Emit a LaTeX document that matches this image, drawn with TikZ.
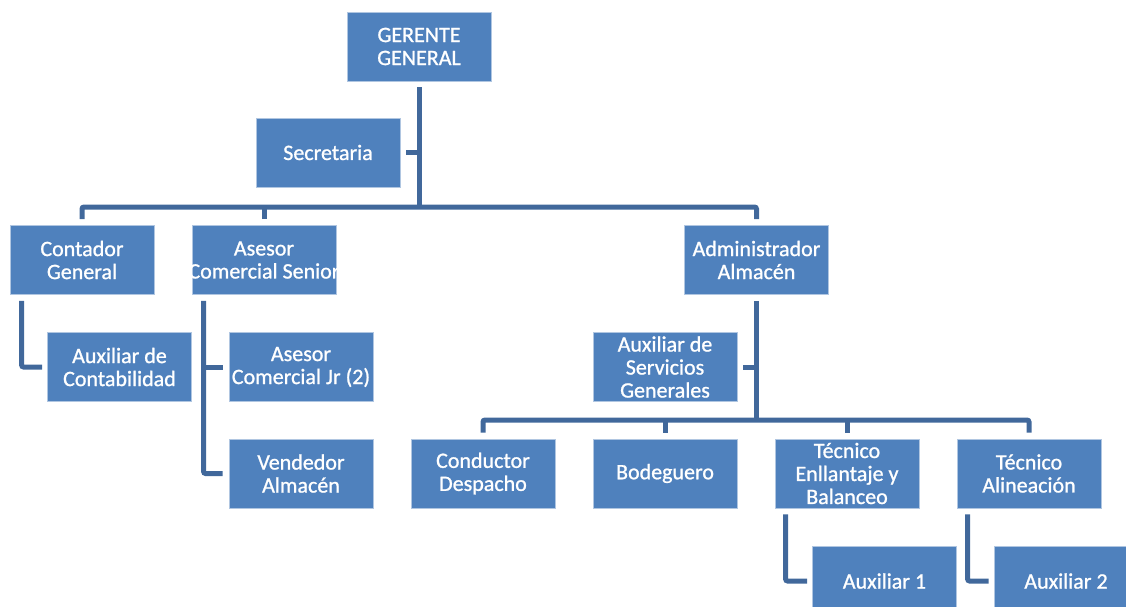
\documentclass[tikz,border=0pt]{standalone}
\usepackage{fontspec}
\setmainfont{Carlito}
\newfontfamily\boxfont{Carlito}[FakeBold=1]
\usetikzlibrary{calc}
\definecolor{bc}{RGB}{79,129,189}
\definecolor{wc}{RGB}{65,104,155}
\tikzset{box/.style={draw=bc!45!white,line width=.8pt,fill=bc,text=white,minimum width=144pt,minimum height=69pt,
   inner sep=0pt,align=center,font=\boxfont\fontsize{22}{23}\selectfont},
 wire/.style={draw=wc,line width=5pt,rounded corners=2pt}}
\begin{document}
\begin{tikzpicture}[x=1pt,y=-1pt]
\useasboundingbox (0,0) rectangle (1126,607);
\clip (0,0) rectangle (1126,607);
\node[box] (gg) at (419,46.5) {GERENTE\\GENERAL};
\node[box] (sec) at (328,152.5) {Secretaria};
\node[box] (cont) at (82,260) {Contador\\General};
\node[box] (ases) at (264,260) {Asesor\\\makebox[140pt]{Comercial Senior}};
\node[box] (adm) at (756.5,260) {Administrador\\Almacén};
\node[box] (auxc) at (119.5,367) {Auxiliar de\\Contabilidad};
\node[box] (asjr) at (301,367) {Asesor\\Comercial Jr (2)};
\node[box] (vend) at (301,473.5) {Vendedor\\Almacén};
\node[box] (auxs) at (665,367) {Auxiliar de\\Servicios\\Generales};
\node[box] (cond) at (483,473.5) {Conductor\\Despacho};
\node[box] (bod) at (665,473.5) {Bodeguero};
\node[box] (tece) at (847,473.5) {Técnico\\Enllantaje y\\Balanceo};
\node[box] (teca) at (1029,473.5) {Técnico\\Alineación};
\node[box] (aux1) at (884.5,581) {Auxiliar 1};
\node[box] (aux2) at (1066,581) {Auxiliar 2};
\coordinate (b1) at (419,207); \coordinate (b2) at (756.5,420);
\draw[wire] ([yshift=-6pt]gg.south) -- (b1);
\draw[wire] ([xshift=6pt]sec.east) -- (sec.east -| b1);
\draw[wire] ([yshift=6pt]cont.north) |- (b1) -| ([yshift=6pt]adm.north);
\draw[wire] ([yshift=6pt]ases.north) -- (ases.north |- b1);
\draw[wire] ([yshift=-6pt]adm.south) -- (b2);
\draw[wire] ([xshift=6pt]auxs.east) -- (auxs.east -| b2);
\draw[wire] ([yshift=6pt]cond.north) |- (b2) -| ([yshift=6pt]teca.north);
\draw[wire] ([yshift=6pt]bod.north) -- (bod.north |- b2);
\draw[wire] ([yshift=6pt]tece.north) -- (tece.north |- b2);
\draw[wire] ([xshift=12pt,yshift=-6pt]cont.south west) |- ([xshift=-5pt]auxc.west);
\draw[wire] ([xshift=12pt,yshift=-6pt]ases.south west) |- ([xshift=-6pt]vend.west);
\draw[wire] ([xshift=12pt]ases.south west |- asjr.west) -- ([xshift=-6pt]asjr.west);
\draw[wire] ([xshift=11pt,yshift=-6pt]tece.south west) |- ([xshift=-5pt]aux1.west);
\draw[wire] ([xshift=11pt,yshift=-6pt]teca.south west) |- ([xshift=-5pt]aux2.west);
\end{tikzpicture}
\end{document}
